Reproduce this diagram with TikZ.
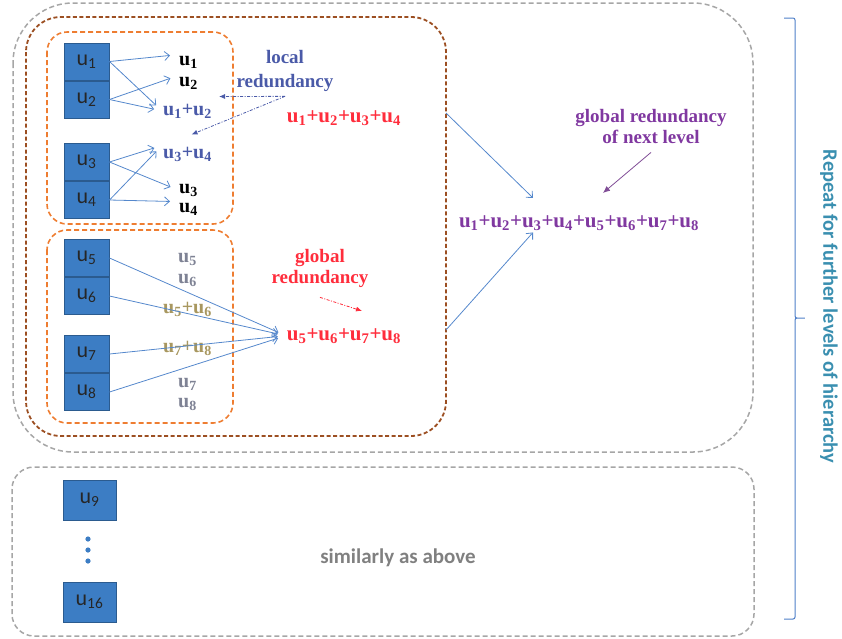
\documentclass[tikz,border=0pt]{standalone}
\usepackage{fontspec}
\setmainfont{Liberation Serif}
\setsansfont{Carlito}
\usetikzlibrary{arrows.meta, positioning}

\definecolor{boxblue}{HTML}{3C7DC4}
\definecolor{boxline}{HTML}{2B5B8F}
\definecolor{arrowblue}{HTML}{5588CC}
\definecolor{dashgray}{HTML}{A6A6A6}
\definecolor{dashbrown}{HTML}{9C4F22}
\definecolor{dashorange}{HTML}{EE7D31}
\definecolor{txtblue}{HTML}{4A5AA8}
\definecolor{txtred}{HTML}{FF2D3C}
\definecolor{txtpurple}{HTML}{8038A0}
\definecolor{txtgray}{HTML}{7E8294}
\definecolor{txtolive}{HTML}{A8975F}
\definecolor{txtteal}{HTML}{3A8FB0}
\definecolor{bracketblue}{HTML}{4F7FC8}

\newcommand{\usub}[1]{u\textsubscript{#1}}

\begin{document}
\begin{tikzpicture}[x=1pt, y=-1pt,
            ubox/.style={draw=boxline, fill=boxblue, line width=1pt, minimum width=45pt, minimum height=37pt, inner sep=0pt, font=\sffamily\fontsize{22}{24}\selectfont, text=black!85},
            sym/.style={font=\bfseries\fontsize{20}{22}\selectfont, inner sep=1pt, anchor=base west},
            sum/.style={font=\bfseries\fontsize{21}{23}\selectfont, inner sep=1pt, anchor=base},
            note/.style={font=\bfseries\fontsize{19}{21}\selectfont, align=center, inner sep=1pt},
            feed/.style={draw=arrowblue, line width=0.8pt, -{Straight Barb[length=5pt, width=9pt]}, shorten >=8pt},
            hint/.style={line width=0.8pt, dash pattern=on 3pt off 1.5pt on 1pt off 1.5pt, -{Latex[length=6pt, width=5pt]}},
            grouplevel/.style={draw=dashgray, line width=1.5pt, dash pattern=on 5pt off 3pt},
            pairlevel/.style={draw=dashorange, line width=1.6pt, dash pattern=on 5pt off 3pt, rounded corners=20pt},
            quadlevel/.style={draw=dashbrown, line width=1.8pt, dash pattern=on 4pt off 2.5pt, rounded corners=35pt}
        ]
            \useasboundingbox (0,0) rectangle (842,638);

            % Dashed frames of the hierarchy
            \draw[grouplevel, rounded corners=60pt] (13,3) rectangle (753,452);
            \draw[grouplevel, rounded corners=22pt] (12,467) rectangle (754,636);
            \draw[quadlevel] (26,17) rectangle (446,436);
            \draw[pairlevel] (47,32) rectangle (233,224);
            \draw[pairlevel] (47,230) rectangle (233,423);

            % Source blocks
            \node[ubox] (b1) at (86.5,61.5) {\usub{1}};
            \node[ubox, below=0pt of b1] (b2) {\usub{2}};
            \node[ubox] (b3) at (86.5,162) {\usub{3}};
            \node[ubox, below=0pt of b3] (b4) {\usub{4}};
            \node[ubox] (b5) at (86.5,258) {\usub{5}};
            \node[ubox, below=0pt of b5] (b6) {\usub{6}};
            \node[ubox] (b7) at (86.5,354) {\usub{7}};
            \node[ubox, below=0pt of b7] (b8) {\usub{8}};
            \node[ubox, minimum width=53pt, minimum height=40pt] (b9) at (89.5,500) {\usub{9}};
            \node[ubox, minimum width=53pt, minimum height=40pt] (b16) at (89.5,602) {\usub{16}};
            \foreach \y in {539,550,561}
                \fill[boxblue] (88,\y) circle (2.6pt);

            % First pair group
            \node[sym] (l1) at (178,65) {\usub{1}};
            \node[sym] (l2) at (178,86) {\usub{2}};
            \node[sym, text=txtblue] (s12) at (162,115) {\usub{1}+\usub{2}};
            \node[sym, text=txtblue] (s34) at (162,158) {\usub{3}+\usub{4}};
            \node[sym] (l3) at (178,193) {\usub{3}};
            \node[sym] (l4) at (178,212) {\usub{4}};

            \draw[feed] (b1.east) -- (l1.north west);
            \draw[feed] (b1.east) -- (s12.west);
            \draw[feed] (b2.east) -- (l2.north west);
            \draw[feed] (b2.east) -- (s12.west);
            \draw[feed] (b3.east) -- (s34.north west);
            \draw[feed] (b3.east) -- (l3.west);
            \draw[feed] (b4.east) -- (s34.north west);
            \draw[feed] (b4.east) -- (l4.north west);

            % Second pair group
            \node[sym, text=txtgray] (l5) at (177,262) {\usub{5}};
            \node[sym, text=txtgray] (l6) at (177,283) {\usub{6}};
            \node[sym, text=txtolive] (s56) at (162,313) {\usub{5}+\usub{6}};
            \node[sym, text=txtolive] (s78) at (162,352) {\usub{7}+\usub{8}};
            \node[sym, text=txtgray] (l7) at (177,387) {\usub{7}};
            \node[sym, text=txtgray] (l8) at (177,407) {\usub{8}};

            % Sums of four and of eight
            \node[sum, text=txtred] (s1234) at (344,122) {\usub{1}+\usub{2}+\usub{3}+\usub{4}};
            \node[sum, text=txtred] (s5678) at (344,340) {\usub{5}+\usub{6}+\usub{7}+\usub{8}};
            \node[sum, text=txtpurple] (s18) at (579,227) {\usub{1}+\usub{2}+\usub{3}+\usub{4}+\usub{5}+\usub{6}+\usub{7}+\usub{8}};

            \foreach \b in {b5,b6,b7,b8}
                \draw[feed] (\b.east) -- (s5678.west);

            \coordinate (gA) at (446,113);
            \coordinate (gB) at (446,330);
            \draw[feed, shorten >=0pt] (gA) -- ([xshift=-46pt, yshift=16pt]s18.north);
            \draw[feed, shorten >=0pt] (gB) -- ([xshift=-46pt, yshift=-1pt]s18.south);

            % Notes
            \node[note, text=txtblue, font=\bfseries\fontsize{19}{24}\selectfont] (local) at (285,70.5) {local\\redundancy};
            \node[note, text=txtred] (gr) at (320,268) {global\\redundancy};
            \node[note, text=txtpurple] (gn) at (651,126) {global redundancy\\of next level};

            \draw[hint, txtblue] ([yshift=-4pt]local.south) -- ([xshift=6pt, yshift=6pt]s12.north east);
            \draw[hint, txtblue] ([yshift=-4pt]local.south) -- ([xshift=4pt, yshift=11pt]s34.north);
            \draw[hint, txtred] ([yshift=-9pt]gr.south) -- ([xshift=18pt, yshift=16pt]s5678.north);
            \draw[line width=0.8pt, draw=txtpurple!70!gray, -{Latex[length=7pt, width=6pt]}] ([yshift=-8pt]gn.south) -- ([xshift=24pt, yshift=21pt]s18.north);

            \node[font=\sffamily\bfseries\fontsize{21}{24}\selectfont, text=black!50] (similar) at (398,558) {similarly as above};

            % Bracket for the further levels
            \draw[bracketblue, line width=1pt, rounded corners=2pt] (784,18) -- (795,18) -- (795,318) -- (806,318) -- (795,318) -- (795,619) -- (784,619);
            \node[rotate=-90, font=\sffamily\bfseries\fontsize{20.5}{24}\selectfont, text=txtteal] (repeat) at (829,306.5) {Repeat for further levels of hierarchy};

        \end{tikzpicture}
\end{document}
